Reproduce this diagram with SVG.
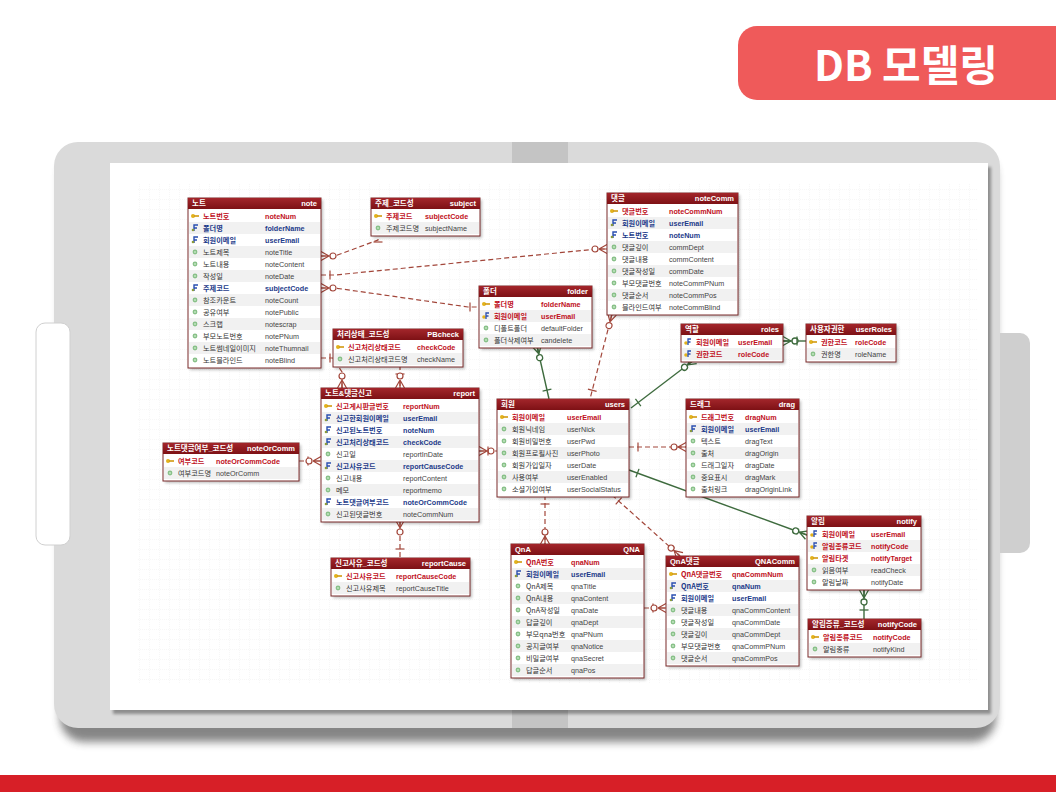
<svg xmlns="http://www.w3.org/2000/svg" width="1056" height="792" viewBox="0 0 1056 792">
<style>
.hd{fill:url(#hg)}
.tb{fill:#fff;stroke:#7a2a2a;stroke-width:1}
.sh{fill:#000;opacity:.25;filter:url(#bl)}
.alt{fill:#f1f1f1}
.ht{font-family:"Liberation Sans","Noto Sans CJK KR",sans-serif;font-size:7.5px;font-weight:bold;fill:#fff}
.ko{font-family:"Noto Sans CJK KR",sans-serif;font-size:7.2px;fill:#333}
.en{font-family:"Liberation Sans",sans-serif;font-size:7.2px;fill:#444}
.pk{fill:#c0101c;font-weight:bold}
.fk{fill:#1d3b8a;font-weight:bold}
.rd{fill:none;stroke:#a2463a;stroke-width:1.2;stroke-dasharray:5 3}
.gr{fill:none;stroke:#3e6b3e;stroke-width:1.4}
</style>
<defs>
<linearGradient id="hg" x1="0" y1="0" x2="0" y2="1"><stop offset="0" stop-color="#a3262b"/><stop offset="1" stop-color="#7d1115"/></linearGradient>
<filter id="bl" x="-10%" y="-10%" width="120%" height="120%"><feGaussianBlur stdDeviation="1.5"/></filter>
<filter id="fsh" x="-5%" y="-5%" width="110%" height="115%"><feGaussianBlur stdDeviation="4"/></filter>
<pattern id="grid" width="10" height="10" patternUnits="userSpaceOnUse"><path d="M10,0V10M0,10H10" fill="none" stroke="#e4e4e4" stroke-width="0.6" stroke-dasharray="1 1"/></pattern>
<g id="ipk"><circle cx="-2" cy="0" r="2" fill="#e2b21c"/><rect x="-1" y="-0.8" width="5" height="1.6" fill="#d19a10"/></g>
<g id="ifk"><path d="M-1,3 V-3 H3 M-1,0 H2" fill="none" stroke="#2a4fb0" stroke-width="1.4"/><circle cx="-2" cy="2" r="1.3" fill="#8a9a3a"/></g>
<g id="ipf"><circle cx="-2" cy="1" r="1.8" fill="#e2b21c"/><path d="M0,3 V-3 H3 M0,0 H2.5" fill="none" stroke="#2a4fb0" stroke-width="1.3"/></g>
<g id="in"><circle r="2.4" fill="#88c088"/><circle r="1.1" fill="#bfe3bf"/></g>
<marker id="rm" markerUnits="userSpaceOnUse" markerWidth="26" markerHeight="14" refX="22" refY="7" orient="auto-start-reverse"><path d="M14,7 L22,2.5 M14,7 L22,11.5 M14,7H22" fill="none" stroke="#a2463a" stroke-width="1.2"/><circle cx="10" cy="7" r="3" fill="#fff" stroke="#a2463a" stroke-width="1.2"/></marker>
<marker id="ro" markerUnits="userSpaceOnUse" markerWidth="26" markerHeight="14" refX="22" refY="7" orient="auto-start-reverse"><path d="M13,2.5V11.5" fill="none" stroke="#a2463a" stroke-width="1.2"/></marker>
<marker id="gm" markerUnits="userSpaceOnUse" markerWidth="26" markerHeight="14" refX="22" refY="7" orient="auto-start-reverse"><path d="M14,7 L22,2.5 M14,7 L22,11.5 M14,7H22" fill="none" stroke="#3e6b3e" stroke-width="1.3"/><circle cx="10" cy="7" r="3" fill="#fff" stroke="#3e6b3e" stroke-width="1.3"/></marker>
<marker id="go" markerUnits="userSpaceOnUse" markerWidth="26" markerHeight="14" refX="22" refY="7" orient="auto-start-reverse"><path d="M13,2.5V11.5" fill="none" stroke="#3e6b3e" stroke-width="1.3"/></marker>
</defs>
<rect width="1056" height="792" fill="#fff"/>
<!-- title tab -->
<rect x="738" y="26" width="360" height="74" rx="19" fill="#ef5a5a"/>
<text x="906" y="81" text-anchor="middle" font-family="Noto Sans CJK KR,sans-serif" font-size="42" font-weight="bold" fill="#fff">DB 모델링</text>
<rect x="0" y="775" width="1056" height="17" fill="#d71f27"/>
<!-- frame -->
<rect x="60" y="152" width="936" height="590" rx="24" fill="#444" opacity=".65" filter="url(#fsh)"/>
<rect x="985" y="333" width="45" height="220" rx="10" fill="#cfcfcf"/>
<rect x="54" y="142" width="946" height="586" rx="24" fill="#dadada"/>
<rect x="36" y="323" width="34" height="222" rx="9" fill="#fff" stroke="#d0d0d0"/>
<rect x="512" y="142" width="56" height="21" fill="#c4c4c4"/>
<rect x="512" y="710" width="56" height="18" fill="#c4c4c4"/>
<rect x="113" y="167" width="878" height="547" fill="#000" opacity=".35" filter="url(#bl)"/>
<rect x="110" y="163" width="878" height="547" fill="#fff"/>
<rect x="138" y="183" width="840" height="500" fill="url(#grid)"/>

<g id="connectors">
<path class="rd" d="M321,256 H335 L378,240 V233" marker-start="url(#rm)" marker-end="url(#ro)"/>
<path class="rd" d="M321,275 H335 L597,249 H607" marker-start="url(#ro)" marker-end="url(#rm)"/>
<path class="rd" d="M321,288 H335 L468,307 H479" marker-start="url(#rm)" marker-end="url(#ro)"/>
<path class="rd" d="M321,358 H333 L342,372 V388" marker-start="url(#ro)" marker-end="url(#rm)"/>
<path class="rd" d="M400,365 V388" marker-start="url(#ro)" marker-end="url(#rm)"/>
<path class="rd" d="M299,461 H321" marker-start="url(#ro)" marker-end="url(#rm)"/>
<path class="rd" d="M400,520 V558" marker-start="url(#rm)" marker-end="url(#ro)"/>
<path class="rd" d="M479,451 H497" marker-start="url(#rm)" marker-end="url(#ro)"/>
<path class="rd" d="M612,314 L590,399" marker-start="url(#rm)" marker-end="url(#ro)"/>
<path class="rd" d="M629,447 H686" marker-start="url(#ro)" marker-end="url(#rm)"/>
<path class="rd" d="M545,495 V544" marker-start="url(#ro)" marker-end="url(#rm)"/>
<path class="rd" d="M612,495 L680,556" marker-start="url(#ro)" marker-end="url(#rm)"/>
<path class="rd" d="M644,608 H666" marker-start="url(#ro)" marker-end="url(#rm)"/>
<path class="gr" d="M537,346 L549,399" marker-start="url(#gm)" marker-end="url(#go)"/>
<path class="gr" d="M694,360 L631,408" marker-start="url(#gm)" marker-end="url(#go)"/>
<path class="gr" d="M783,341 H806" marker-start="url(#gm)" marker-end="url(#go)"/>
<path class="gr" d="M629,470 L807,535" marker-start="url(#go)" marker-end="url(#gm)"/>
<path class="gr" d="M864,590 V619" marker-start="url(#gm)" marker-end="url(#go)"/>
</g>

<g id="t-note" transform="translate(188,198)">
<rect class="sh" x="2" y="2" width="133" height="170"/><rect class="tb" width="133" height="170"/><rect class="hd" width="133" height="11"/>
<text class="ht" x="4" y="8">노트</text><text class="ht" x="129" y="8" text-anchor="end">note</text>
<rect class="alt" x="1" y="24" width="131" height="12"/><rect class="alt" x="1" y="48" width="131" height="12"/><rect class="alt" x="1" y="72" width="131" height="12"/><rect class="alt" x="1" y="96" width="131" height="12"/><rect class="alt" x="1" y="120" width="131" height="12"/><rect class="alt" x="1" y="144" width="131" height="12"/>
<use href="#ipk" x="7" y="18"/><text class="ko pk" x="15" y="21">노트번호</text><text class="en pk" x="77" y="21">noteNum</text>
<use href="#ifk" x="7" y="30"/><text class="ko fk" x="15" y="33">폴더명</text><text class="en fk" x="77" y="33">folderName</text>
<use href="#ifk" x="7" y="42"/><text class="ko fk" x="15" y="45">회원이메일</text><text class="en fk" x="77" y="45">userEmail</text>
<use href="#in" x="7" y="54"/><text class="ko" x="15" y="57">노트제목</text><text class="en" x="77" y="57">noteTitle</text>
<use href="#in" x="7" y="66"/><text class="ko" x="15" y="69">노트내용</text><text class="en" x="77" y="69">noteContent</text>
<use href="#in" x="7" y="78"/><text class="ko" x="15" y="81">작성일</text><text class="en" x="77" y="81">noteDate</text>
<use href="#ifk" x="7" y="90"/><text class="ko fk" x="15" y="93">주제코드</text><text class="en fk" x="77" y="93">subjectCode</text>
<use href="#in" x="7" y="102"/><text class="ko" x="15" y="105">참조카운트</text><text class="en" x="77" y="105">noteCount</text>
<use href="#in" x="7" y="114"/><text class="ko" x="15" y="117">공유여부</text><text class="en" x="77" y="117">notePublic</text>
<use href="#in" x="7" y="126"/><text class="ko" x="15" y="129">스크랩</text><text class="en" x="77" y="129">notescrap</text>
<use href="#in" x="7" y="138"/><text class="ko" x="15" y="141">부모노트번호</text><text class="en" x="77" y="141">notePNum</text>
<use href="#in" x="7" y="150"/><text class="ko" x="15" y="153">노트썸네일이미지</text><text class="en" x="77" y="153">noteThumnail</text>
<use href="#in" x="7" y="162"/><text class="ko" x="15" y="165">노트블라인드</text><text class="en" x="77" y="165">noteBlind</text>
</g>

<g id="t-subject" transform="translate(371,198)">
<rect class="sh" x="2" y="2" width="109" height="38"/><rect class="tb" width="109" height="38"/><rect class="hd" width="109" height="11"/>
<text class="ht" x="4" y="8">주제_코드성</text><text class="ht" x="105" y="8" text-anchor="end">subject</text>
<rect class="alt" x="1" y="24" width="107" height="12"/>
<use href="#ipk" x="7" y="18"/><text class="ko pk" x="15" y="21">주제코드</text><text class="en pk" x="54" y="21">subjectCode</text>
<use href="#in" x="7" y="30"/><text class="ko" x="15" y="33">주제코드명</text><text class="en" x="54" y="33">subjectName</text>
</g>

<g id="t-noteComm" transform="translate(607,193)">
<rect class="sh" x="2" y="2" width="131" height="122"/><rect class="tb" width="131" height="122"/><rect class="hd" width="131" height="11"/>
<text class="ht" x="4" y="8">댓글</text><text class="ht" x="127" y="8" text-anchor="end">noteComm</text>
<rect class="alt" x="1" y="24" width="129" height="12"/><rect class="alt" x="1" y="48" width="129" height="12"/><rect class="alt" x="1" y="72" width="129" height="12"/><rect class="alt" x="1" y="96" width="129" height="12"/>
<use href="#ipk" x="7" y="18"/><text class="ko pk" x="15" y="21">댓글번호</text><text class="en pk" x="62" y="21">noteCommNum</text>
<use href="#ifk" x="7" y="30"/><text class="ko fk" x="15" y="33">회원이메일</text><text class="en fk" x="62" y="33">userEmail</text>
<use href="#ifk" x="7" y="42"/><text class="ko fk" x="15" y="45">노트번호</text><text class="en fk" x="62" y="45">noteNum</text>
<use href="#in" x="7" y="54"/><text class="ko" x="15" y="57">댓글깊이</text><text class="en" x="62" y="57">commDept</text>
<use href="#in" x="7" y="66"/><text class="ko" x="15" y="69">댓글내용</text><text class="en" x="62" y="69">commContent</text>
<use href="#in" x="7" y="78"/><text class="ko" x="15" y="81">댓글작성일</text><text class="en" x="62" y="81">commDate</text>
<use href="#in" x="7" y="90"/><text class="ko" x="15" y="93">부모댓글번호</text><text class="en" x="62" y="93">noteCommPNum</text>
<use href="#in" x="7" y="102"/><text class="ko" x="15" y="105">댓글순서</text><text class="en" x="62" y="105">noteCommPos</text>
<use href="#in" x="7" y="114"/><text class="ko" x="15" y="117">블라인드여부</text><text class="en" x="62" y="117">noteCommBlind</text>
</g>

<g id="t-folder" transform="translate(479,286)">
<rect class="sh" x="2" y="2" width="113" height="62"/><rect class="tb" width="113" height="62"/><rect class="hd" width="113" height="11"/>
<text class="ht" x="4" y="8">폴더</text><text class="ht" x="109" y="8" text-anchor="end">folder</text>
<rect class="alt" x="1" y="24" width="111" height="12"/><rect class="alt" x="1" y="48" width="111" height="12"/>
<use href="#ipk" x="7" y="18"/><text class="ko pk" x="15" y="21">폴더명</text><text class="en pk" x="62" y="21">folderName</text>
<use href="#ipf" x="7" y="30"/><text class="ko pk" x="15" y="33">회원이메일</text><text class="en pk" x="62" y="33">userEmail</text>
<use href="#in" x="7" y="42"/><text class="ko" x="15" y="45">디폴트폴더</text><text class="en" x="62" y="45">defaultFolder</text>
<use href="#in" x="7" y="54"/><text class="ko" x="15" y="57">폴더삭제여부</text><text class="en" x="62" y="57">candelete</text>
</g>

<g id="t-PBcheck" transform="translate(333,329)">
<rect class="sh" x="2" y="2" width="130" height="38"/><rect class="tb" width="130" height="38"/><rect class="hd" width="130" height="11"/>
<text class="ht" x="4" y="8">처리상태_코드성</text><text class="ht" x="126" y="8" text-anchor="end">PBcheck</text>
<rect class="alt" x="1" y="24" width="128" height="12"/>
<use href="#ipk" x="7" y="18"/><text class="ko pk" x="15" y="21">신고처리상태코드</text><text class="en pk" x="84" y="21">checkCode</text>
<use href="#in" x="7" y="30"/><text class="ko" x="15" y="33">신고처리상태코드명</text><text class="en" x="84" y="33">checkName</text>
</g>

<g id="t-report" transform="translate(321,388)">
<rect class="sh" x="2" y="2" width="158" height="134"/><rect class="tb" width="158" height="134"/><rect class="hd" width="158" height="11"/>
<text class="ht" x="4" y="8">노트&amp;댓글신고</text><text class="ht" x="154" y="8" text-anchor="end">report</text>
<rect class="alt" x="1" y="24" width="156" height="12"/><rect class="alt" x="1" y="48" width="156" height="12"/><rect class="alt" x="1" y="72" width="156" height="12"/><rect class="alt" x="1" y="96" width="156" height="12"/><rect class="alt" x="1" y="120" width="156" height="12"/>
<use href="#ipk" x="7" y="18"/><text class="ko pk" x="15" y="21">신고게시판글번호</text><text class="en pk" x="82" y="21">reportNum</text>
<use href="#ifk" x="7" y="30"/><text class="ko fk" x="15" y="33">신고한회원이메일</text><text class="en fk" x="82" y="33">userEmail</text>
<use href="#ifk" x="7" y="42"/><text class="ko fk" x="15" y="45">신고된노트번호</text><text class="en fk" x="82" y="45">noteNum</text>
<use href="#ifk" x="7" y="54"/><text class="ko fk" x="15" y="57">신고처리상태코드</text><text class="en fk" x="82" y="57">checkCode</text>
<use href="#in" x="7" y="66"/><text class="ko" x="15" y="69">신고일</text><text class="en" x="82" y="69">reportInDate</text>
<use href="#ifk" x="7" y="78"/><text class="ko fk" x="15" y="81">신고사유코드</text><text class="en fk" x="82" y="81">reportCauseCode</text>
<use href="#in" x="7" y="90"/><text class="ko" x="15" y="93">신고내용</text><text class="en" x="82" y="93">reportContent</text>
<use href="#in" x="7" y="102"/><text class="ko" x="15" y="105">메모</text><text class="en" x="82" y="105">reportmemo</text>
<use href="#ifk" x="7" y="114"/><text class="ko fk" x="15" y="117">노트댓글여부코드</text><text class="en fk" x="82" y="117">noteOrCommCode</text>
<use href="#in" x="7" y="126"/><text class="ko" x="15" y="129">신고된댓글번호</text><text class="en" x="82" y="129">noteCommNum</text>
</g>

<g id="t-roles" transform="translate(681,324)">
<rect class="sh" x="2" y="2" width="102" height="38"/><rect class="tb" width="102" height="38"/><rect class="hd" width="102" height="11"/>
<text class="ht" x="4" y="8">역할</text><text class="ht" x="98" y="8" text-anchor="end">roles</text>
<rect class="alt" x="1" y="24" width="100" height="12"/>
<use href="#ipf" x="7" y="18"/><text class="ko pk" x="15" y="21">회원이메일</text><text class="en pk" x="57" y="21">userEmail</text>
<use href="#ipf" x="7" y="30"/><text class="ko pk" x="15" y="33">권한코드</text><text class="en pk" x="57" y="33">roleCode</text>
</g>

<g id="t-userRoles" transform="translate(806,324)">
<rect class="sh" x="2" y="2" width="90" height="38"/><rect class="tb" width="90" height="38"/><rect class="hd" width="90" height="11"/>
<text class="ht" x="4" y="8">사용자권한</text><text class="ht" x="86" y="8" text-anchor="end">userRoles</text>
<rect class="alt" x="1" y="24" width="88" height="12"/>
<use href="#ipk" x="7" y="18"/><text class="ko pk" x="15" y="21">권한코드</text><text class="en pk" x="49" y="21">roleCode</text>
<use href="#in" x="7" y="30"/><text class="ko" x="15" y="33">권한명</text><text class="en" x="49" y="33">roleName</text>
</g>

<g id="t-users" transform="translate(497,399)">
<rect class="sh" x="2" y="2" width="132" height="98"/><rect class="tb" width="132" height="98"/><rect class="hd" width="132" height="11"/>
<text class="ht" x="4" y="8">회원</text><text class="ht" x="128" y="8" text-anchor="end">users</text>
<rect class="alt" x="1" y="24" width="130" height="12"/><rect class="alt" x="1" y="48" width="130" height="12"/><rect class="alt" x="1" y="72" width="130" height="12"/>
<use href="#ipk" x="7" y="18"/><text class="ko pk" x="15" y="21">회원이메일</text><text class="en pk" x="70" y="21">userEmail</text>
<use href="#in" x="7" y="30"/><text class="ko" x="15" y="33">회원닉네임</text><text class="en" x="70" y="33">userNick</text>
<use href="#in" x="7" y="42"/><text class="ko" x="15" y="45">회원비밀번호</text><text class="en" x="70" y="45">userPwd</text>
<use href="#in" x="7" y="54"/><text class="ko" x="15" y="57">회원프로필사진</text><text class="en" x="70" y="57">userPhoto</text>
<use href="#in" x="7" y="66"/><text class="ko" x="15" y="69">회원가입일자</text><text class="en" x="70" y="69">userDate</text>
<use href="#in" x="7" y="78"/><text class="ko" x="15" y="81">사용여부</text><text class="en" x="70" y="81">userEnabled</text>
<use href="#in" x="7" y="90"/><text class="ko" x="15" y="93">소셜가입여부</text><text class="en" x="70" y="93">userSocialStatus</text>
</g>

<g id="t-drag" transform="translate(686,399)">
<rect class="sh" x="2" y="2" width="113" height="98"/><rect class="tb" width="113" height="98"/><rect class="hd" width="113" height="11"/>
<text class="ht" x="4" y="8">드래그</text><text class="ht" x="109" y="8" text-anchor="end">drag</text>
<rect class="alt" x="1" y="24" width="111" height="12"/><rect class="alt" x="1" y="48" width="111" height="12"/><rect class="alt" x="1" y="72" width="111" height="12"/>
<use href="#ipk" x="7" y="18"/><text class="ko pk" x="15" y="21">드래그번호</text><text class="en pk" x="59" y="21">dragNum</text>
<use href="#ifk" x="7" y="30"/><text class="ko fk" x="15" y="33">회원이메일</text><text class="en fk" x="59" y="33">userEmail</text>
<use href="#in" x="7" y="42"/><text class="ko" x="15" y="45">텍스트</text><text class="en" x="59" y="45">dragText</text>
<use href="#in" x="7" y="54"/><text class="ko" x="15" y="57">출처</text><text class="en" x="59" y="57">dragOrigin</text>
<use href="#in" x="7" y="66"/><text class="ko" x="15" y="69">드래그일자</text><text class="en" x="59" y="69">dragDate</text>
<use href="#in" x="7" y="78"/><text class="ko" x="15" y="81">중요표시</text><text class="en" x="59" y="81">dragMark</text>
<use href="#in" x="7" y="90"/><text class="ko" x="15" y="93">출처링크</text><text class="en" x="59" y="93">dragOriginLink</text>
</g>

<g id="t-noteOrComm" transform="translate(163,443)">
<rect class="sh" x="2" y="2" width="136" height="38"/><rect class="tb" width="136" height="38"/><rect class="hd" width="136" height="11"/>
<text class="ht" x="4" y="8">노트댓글여부_코드성</text><text class="ht" x="132" y="8" text-anchor="end">noteOrComm</text>
<rect class="alt" x="1" y="24" width="134" height="12"/>
<use href="#ipk" x="7" y="18"/><text class="ko pk" x="15" y="21">여부코드</text><text class="en pk" x="53" y="21">noteOrCommCode</text>
<use href="#in" x="7" y="30"/><text class="ko" x="15" y="33">여부코드명</text><text class="en" x="53" y="33">noteOrComm</text>
</g>

<g id="t-reportCause" transform="translate(331,558)">
<rect class="sh" x="2" y="2" width="139" height="38"/><rect class="tb" width="139" height="38"/><rect class="hd" width="139" height="11"/>
<text class="ht" x="4" y="8">신고사유_코드성</text><text class="ht" x="135" y="8" text-anchor="end">reportCause</text>
<rect class="alt" x="1" y="24" width="137" height="12"/>
<use href="#ipk" x="7" y="18"/><text class="ko pk" x="15" y="21">신고사유코드</text><text class="en pk" x="65" y="21">reportCauseCode</text>
<use href="#in" x="7" y="30"/><text class="ko" x="15" y="33">신고사유제목</text><text class="en" x="65" y="33">reportCauseTitle</text>
</g>

<g id="t-QNA" transform="translate(511,544)">
<rect class="sh" x="2" y="2" width="133" height="134"/><rect class="tb" width="133" height="134"/><rect class="hd" width="133" height="11"/>
<text class="ht" x="4" y="8">QnA</text><text class="ht" x="129" y="8" text-anchor="end">QNA</text>
<rect class="alt" x="1" y="24" width="131" height="12"/><rect class="alt" x="1" y="48" width="131" height="12"/><rect class="alt" x="1" y="72" width="131" height="12"/><rect class="alt" x="1" y="96" width="131" height="12"/><rect class="alt" x="1" y="120" width="131" height="12"/>
<use href="#ipk" x="7" y="18"/><text class="ko pk" x="15" y="21">QnA번호</text><text class="en pk" x="60" y="21">qnaNum</text>
<use href="#ifk" x="7" y="30"/><text class="ko fk" x="15" y="33">회원이메일</text><text class="en fk" x="60" y="33">userEmail</text>
<use href="#in" x="7" y="42"/><text class="ko" x="15" y="45">QnA제목</text><text class="en" x="60" y="45">qnaTitle</text>
<use href="#in" x="7" y="54"/><text class="ko" x="15" y="57">QnA내용</text><text class="en" x="60" y="57">qnaContent</text>
<use href="#in" x="7" y="66"/><text class="ko" x="15" y="69">QnA작성일</text><text class="en" x="60" y="69">qnaDate</text>
<use href="#in" x="7" y="78"/><text class="ko" x="15" y="81">답글깊이</text><text class="en" x="60" y="81">qnaDept</text>
<use href="#in" x="7" y="90"/><text class="ko" x="15" y="93">부모qna번호</text><text class="en" x="60" y="93">qnaPNum</text>
<use href="#in" x="7" y="102"/><text class="ko" x="15" y="105">공지글여부</text><text class="en" x="60" y="105">qnaNotice</text>
<use href="#in" x="7" y="114"/><text class="ko" x="15" y="117">비밀글여부</text><text class="en" x="60" y="117">qnaSecret</text>
<use href="#in" x="7" y="126"/><text class="ko" x="15" y="129">답글순서</text><text class="en" x="60" y="129">qnaPos</text>
</g>

<g id="t-QNAComm" transform="translate(666,556)">
<rect class="sh" x="2" y="2" width="133" height="110"/><rect class="tb" width="133" height="110"/><rect class="hd" width="133" height="11"/>
<text class="ht" x="4" y="8">QnA댓글</text><text class="ht" x="129" y="8" text-anchor="end">QNAComm</text>
<rect class="alt" x="1" y="24" width="131" height="12"/><rect class="alt" x="1" y="48" width="131" height="12"/><rect class="alt" x="1" y="72" width="131" height="12"/><rect class="alt" x="1" y="96" width="131" height="12"/>
<use href="#ipk" x="7" y="18"/><text class="ko pk" x="15" y="21">QnA댓글번호</text><text class="en pk" x="66" y="21">qnaCommNum</text>
<use href="#ifk" x="7" y="30"/><text class="ko fk" x="15" y="33">QnA번호</text><text class="en fk" x="66" y="33">qnaNum</text>
<use href="#ifk" x="7" y="42"/><text class="ko fk" x="15" y="45">회원이메일</text><text class="en fk" x="66" y="45">userEmail</text>
<use href="#in" x="7" y="54"/><text class="ko" x="15" y="57">댓글내용</text><text class="en" x="66" y="57">qnaCommContent</text>
<use href="#in" x="7" y="66"/><text class="ko" x="15" y="69">댓글작성일</text><text class="en" x="66" y="69">qnaCommDate</text>
<use href="#in" x="7" y="78"/><text class="ko" x="15" y="81">댓글깊이</text><text class="en" x="66" y="81">qnaCommDept</text>
<use href="#in" x="7" y="90"/><text class="ko" x="15" y="93">부모댓글번호</text><text class="en" x="66" y="93">qnaCommPNum</text>
<use href="#in" x="7" y="102"/><text class="ko" x="15" y="105">댓글순서</text><text class="en" x="66" y="105">qnaCommPos</text>
</g>

<g id="t-notify" transform="translate(807,516)">
<rect class="sh" x="2" y="2" width="114" height="74"/><rect class="tb" width="114" height="74"/><rect class="hd" width="114" height="11"/>
<text class="ht" x="4" y="8">알림</text><text class="ht" x="110" y="8" text-anchor="end">notify</text>
<rect class="alt" x="1" y="24" width="112" height="12"/><rect class="alt" x="1" y="48" width="112" height="12"/>
<use href="#ipf" x="7" y="18"/><text class="ko pk" x="15" y="21">회원이메일</text><text class="en pk" x="64" y="21">userEmail</text>
<use href="#ipf" x="7" y="30"/><text class="ko pk" x="15" y="33">알림종류코드</text><text class="en pk" x="64" y="33">notifyCode</text>
<use href="#ipk" x="7" y="42"/><text class="ko pk" x="15" y="45">알림타겟</text><text class="en pk" x="64" y="45">notifyTarget</text>
<use href="#in" x="7" y="54"/><text class="ko" x="15" y="57">읽음여부</text><text class="en" x="64" y="57">readCheck</text>
<use href="#in" x="7" y="66"/><text class="ko" x="15" y="69">알림날짜</text><text class="en" x="64" y="69">notifyDate</text>
</g>

<g id="t-notifyCode" transform="translate(808,619)">
<rect class="sh" x="2" y="2" width="113" height="38"/><rect class="tb" width="113" height="38"/><rect class="hd" width="113" height="11"/>
<text class="ht" x="4" y="8">알림종류_코드성</text><text class="ht" x="109" y="8" text-anchor="end">notifyCode</text>
<rect class="alt" x="1" y="24" width="111" height="12"/>
<use href="#ipk" x="7" y="18"/><text class="ko pk" x="15" y="21">알림종류코드</text><text class="en pk" x="65" y="21">notifyCode</text>
<use href="#in" x="7" y="30"/><text class="ko" x="15" y="33">알림종류</text><text class="en" x="65" y="33">notifyKind</text>
</g>
</svg>
